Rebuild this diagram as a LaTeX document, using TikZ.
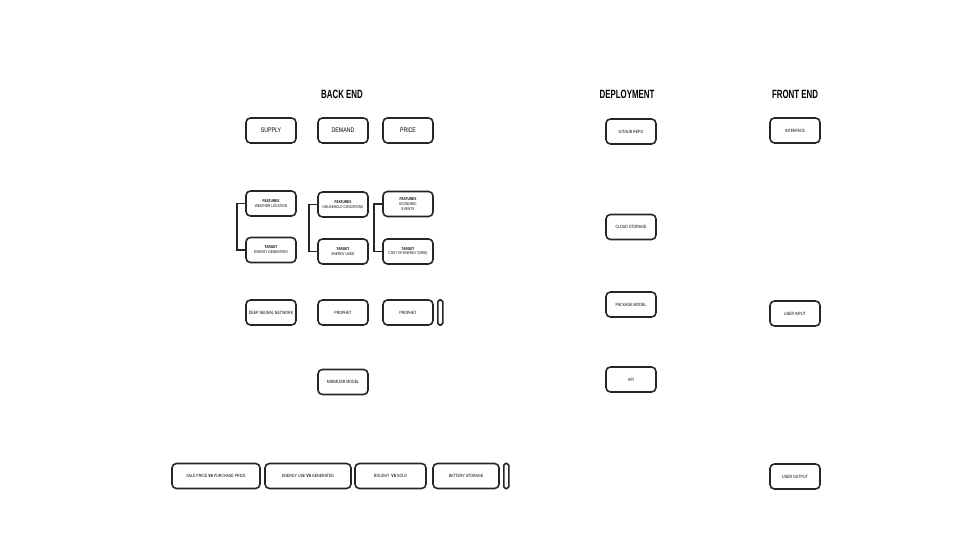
\documentclass[tikz,border=0pt]{standalone}
\usepackage{fontspec}
\setmainfont{Liberation Sans}[FakeStretch=0.78]
\newfontfamily\headfont{Liberation Sans}[FakeStretch=0.66]
\begin{document}
\begin{tikzpicture}[x=0.02cm, y=-0.02cm,
    box/.style={draw=black!85, line width=0.9pt, rounded corners=2.5pt, fill=white,
      minimum width=1cm, minimum height=0.5cm, inner sep=1pt, align=center,
      font=\fontsize{2.6}{3}\selectfont},
    bigbox/.style={box, font=\fontsize{3.8}{4.4}\selectfont},
    pairbox/.style={box, font=\fontsize{2.3}{2.8}\selectfont},
    slim/.style={draw=black!85, line width=0.9pt, rounded corners=1pt, minimum width=0.1cm, minimum height=0.5cm, inner sep=0pt},
    head/.style={font=\headfont\fontsize{6.8}{7}\selectfont\bfseries},
    link/.style={draw=black!85, line width=1pt}]
  \useasboundingbox (0,0) rectangle (960,540);
  % Column headings
  \node[head] (hback) at (342,94) {BACK END};
  \node[head] (hdep) at (627,94) {DEPLOYMENT};
  \node[head] (hfront) at (795,94) {FRONT END};
  % Back end: targets
  \node[bigbox] (supply) at (271,130.5) {SUPPLY};
  \node[bigbox] (demand) at (343,130.5) {DEMAND};
  \node[bigbox] (price) at (408,130.5) {PRICE};
  % Features and targets
  \node[pairbox] (fsup) at (271,203.5) {\textbf{FEATURES}\\WEATHER LOCATION};
  \node[pairbox] (tsup) at (271,250) {\textbf{TARGET}\\ENERGY GENERATED};
  \node[pairbox] (fdem) at (343,204.5) {\textbf{FEATURES}\\HOUSEHOLD CONDITIONS};
  \node[pairbox] (tdem) at (343,251.5) {\textbf{TARGET}\\ENERGY USED};
  \node[pairbox] (fpri) at (408,204) {\textbf{FEATURES}\\ECONOMIC\\EVENTS};
  \node[pairbox] (tpri) at (408,251.5) {\textbf{TARGET}\\COST OF ENERGY (GRID)};
  \draw[link] (fsup.west) -- ++(-8,0) |- (tsup.west);
  \draw[link] (fdem.west) -- ++(-8,0) |- (tdem.west);
  \draw[link] (fpri.west) -- ++(-8,0) |- (tpri.west);
  % Models
  \node[box] (dnn) at (271,312.5) {DEEP NEURAL NETWORK};
  \node[box] (prophA) at (343,312.5) {PROPHET};
  \node[box] (prophB) at (408,312.5) {PROPHET};
  \node[slim, anchor=west] (edgeB) at (437,312.5) {};
  \node[box] (minim) at (343,382) {MINIMIZER MODEL};
  % Outputs row
  \node[box, minimum width=1.76cm] (out1) at (216,476) {SALE PRICE \textbf{VS} PURCHASE PRICE};
  \node[box, minimum width=1.72cm] (out2) at (308,476) {ENERGY USE \textbf{VS} GENERATED};
  \node[box, minimum width=1.42cm] (out3) at (390.5,476) {BOUGHT \ \textbf{VS} SOLD};
  \node[box, minimum width=1.32cm] (out4) at (466,476) {BATTERY STORAGE};
  \node[slim, anchor=west] (edgeC) at (503,476) {};
  % Deployment
  \node[box] (repo) at (631,131.5) {GITHUB REPO};
  \node[box] (cloud) at (631,227) {CLOUD STORAGE};
  \node[box] (pack) at (631,304.5) {PACKAGE MODEL};
  \node[box] (api) at (631,379.5) {API};
  % Front end
  \node[box] (iface) at (795,130.5) {INTERFACE};
  \node[box] (uin) at (795,313.5) {USER INPUT};
  \node[box] (uout) at (795,476.5) {USER OUTPUT};
\end{tikzpicture}
\end{document}
